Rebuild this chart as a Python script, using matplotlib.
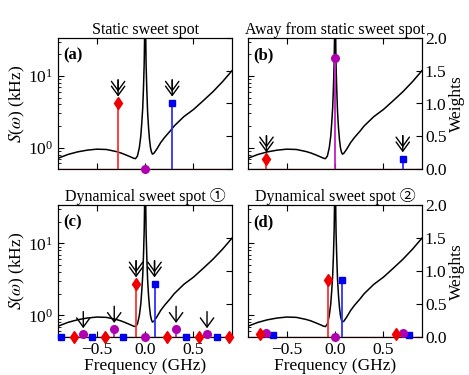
import numpy as np
import matplotlib
matplotlib.use("Agg")
import matplotlib.pyplot as plt
from matplotlib.transforms import offset_copy

plt.rcParams['font.family'] = 'Liberation Serif'
plt.rcParams['mathtext.fontset'] = 'stix'
plt.rcParams['mathtext.default'] = 'regular'
plt.rcParams['font.size'] = 12

# noise spectrum S(omega) (GHz, kHz)
freq = [-0.90, -0.80, -0.70, -0.60, -0.50, -0.40, -0.30, -0.25, -0.20, -0.15,
        -0.12, -0.10, -0.08, -0.06, -0.045, -0.035, -0.025, -0.017, -0.010,
        -0.005, 0.0, 0.005, 0.010, 0.017, 0.025, 0.035, 0.045, 0.055, 0.065,
        0.075, 0.09, 0.12, 0.16, 0.20, 0.26, 0.30, 0.40, 0.50, 0.60, 0.70,
        0.80, 0.90]
S_khz = [0.71, 0.80, 0.87, 0.92, 0.95, 0.94, 0.88, 0.84, 0.79, 0.74,
         0.71, 0.70, 0.76, 1.0, 1.45, 2.2, 3.6, 7.0, 15.0,
         40.0, 150.0, 40.0, 14.0, 6.5, 3.2, 1.9, 1.3, 1.0, 0.87,
         0.81, 0.83, 0.95, 1.17, 1.38, 1.71, 2.0, 2.7, 3.4, 4.5, 6.0,
         8.3, 11.9]

titles = ['Static sweet spot', 'Away from static sweet spot',
          'Dynamical sweet spot \u2460', 'Dynamical sweet spot \u2461']
labels = ['(a)', '(b)', '(c)', '(d)']

# weights (frequency, weight) per panel
red_f = [[-0.28], [-0.71],
         [-0.74, -0.417, -0.094, 0.229, 0.552, 0.872],
         [-0.78, -0.07, 0.635]]
red_w = [[1.0], [0.15],
         [0.0, 0.0, 0.80, 0.0, 0.0, 0.0],
         [0.04, 0.86, 0.04]]
blue_f = [[0.28], [0.70],
          [-0.872, -0.549, -0.226, 0.097, 0.42, 0.743],
          [-0.64, 0.07, 0.766]]
blue_w = [[1.0], [0.15],
          [0.0, 0.0, 0.0, 0.80, 0.0, 0.0],
          [0.03, 0.86, 0.03]]
mag_f = [[0.0], [0.0],
         [-0.64, -0.32, 0.0, 0.32, 0.64],
         [-0.71, 0.0, 0.70]]
mag_w = [[0.0], [1.70],
         [0.04, 0.12, 0.0, 0.12, 0.04],
         [0.065, 0.0, 0.065]]

# arrows: (frequency, weight of marker, double head?)
arrows = [[(-0.28, 1.0, True), (0.28, 1.0, True)],
          [(-0.71, 0.15, True), (0.70, 0.15, True)],
          [(-0.094, 0.80, True), (0.097, 0.80, True),
           (-0.64, 0.04, False), (-0.32, 0.12, False),
           (0.32, 0.12, False), (0.64, 0.04, False)],
          []]

fig = plt.figure(figsize=(4.69, 3.75), dpi=100)
pos = [[0.124, 0.549, 0.371, 0.350], [0.529, 0.549, 0.371, 0.350],
       [0.124, 0.101, 0.371, 0.352], [0.529, 0.101, 0.371, 0.352]]
arrow_style = '->, head_length=0.55, head_width=0.4'

for i in range(4):
    ax = fig.add_axes(pos[i])
    ax.plot(freq, S_khz, color='k', lw=1.1, zorder=3)
    ax.set_yscale('log')
    ax.set_xlim(-0.9, 0.9)
    ax.set_ylim(0.5, 34)
    ax.set_xticks([-0.5, 0.0, 0.5])
    ax.tick_params(which='both', direction='in', top=True, labelsize=12.5)
    ax.tick_params(which='major', length=4)
    ax.tick_params(which='minor', length=2)
    ax.set_title(titles[i], fontsize=11.5, pad=2,
                 family=['Liberation Serif', 'Noto Sans CJK JP'])
    ax.text(0.03, 0.93, labels[i], transform=ax.transAxes, fontweight='bold',
            fontsize=12, va='top', ha='left')
    if i < 2:
        ax.set_xticklabels([])
    else:
        ax.set_xlabel('Frequency (GHz)', labelpad=0, fontsize=12.5)
    if i % 2 == 0:
        ax.set_ylabel(r'$\mathit{S}(\mathit{\omega})$ (kHz)', labelpad=1, fontsize=12.5)
    else:
        ax.set_yticklabels([], minor=False)
        ax.set_yticklabels([], minor=True)

    ax2 = ax.twinx()
    ax2.set_ylim(0, 2.0)
    ax2.set_yticks([0, 0.5, 1.0, 1.5, 2.0])
    ax2.tick_params(direction='in', length=4, labelsize=12.5, pad=2)
    if i % 2 == 1:
        ax2.set_ylabel('Weights', labelpad=2, fontsize=12.5)
    else:
        ax2.set_yticklabels([])

    for fx, wy, lc, mc, mk, ms in [(blue_f[i], blue_w[i], '#3030ff', '#0000ee', 's', 5),
                                   (mag_f[i], mag_w[i], '#c020c0', '#b000b0', 'o', 5.5),
                                   (red_f[i], red_w[i], '#ff3030', '#ee0000', 'd', 6)]:
        ml, sl, bl = ax2.stem(fx, wy, basefmt=' ')
        plt.setp(sl, color=lc, lw=1.3, clip_on=False)
        plt.setp(ml, color=mc, marker=mk, markersize=ms, clip_on=False, zorder=4)
    ax2.axhline(0, color='#e03030', lw=1.0, zorder=2)

    for ax_f, ax_w, dbl in arrows[i]:
        gap = 5 if dbl else 4.5
        length = 12
        tip = offset_copy(ax2.transData, fig=fig, y=gap, units='points')
        tail = offset_copy(ax2.transData, fig=fig, y=gap + length, units='points')
        ax2.annotate('', xy=(ax_f, ax_w), xycoords=tip,
                     xytext=(ax_f, ax_w), textcoords=tail,
                     arrowprops=dict(arrowstyle=arrow_style,
                                     color='k', lw=1.0, shrinkA=0, shrinkB=0))
        if dbl:
            tip2 = offset_copy(ax2.transData, fig=fig, y=gap + 3.5, units='points')
            ax2.annotate('', xy=(ax_f, ax_w), xycoords=tip2,
                         xytext=(ax_f, ax_w), textcoords=tail,
                         arrowprops=dict(arrowstyle=arrow_style,
                                         color='k', lw=1.0, shrinkA=0, shrinkB=0))

fig.savefig('out.png', dpi=100)
